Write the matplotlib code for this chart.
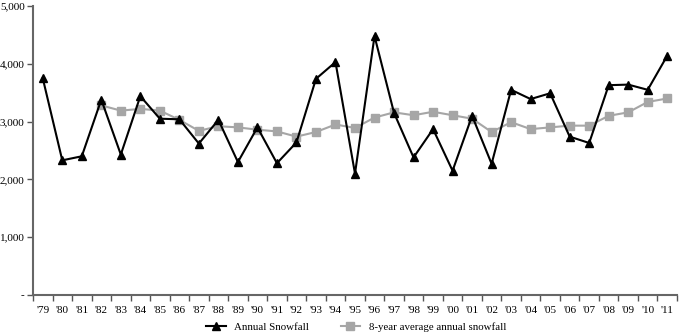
import numpy as np
import matplotlib.pyplot as plt
from matplotlib.ticker import FuncFormatter

plt.rcParams['font.family'] = ['Liberation Serif', 'DejaVu Serif']

# Data
years = ["'79", "'80", "'81", "'82", "'83", "'84", "'85", "'86", "'87", "'88",
         "'89", "'90", "'91", "'92", "'93", "'94", "'95", "'96", "'97", "'98",
         "'99", "'00", "'01", "'02", "'03", "'04", "'05", "'06", "'07", "'08",
         "'09", "'10", "'11"]
annual = [3750, 2330, 2400, 3380, 2430, 3440, 3050, 3040, 2620, 3030,
          2300, 2900, 2280, 2640, 3740, 4030, 2100, 4480, 3150, 2380,
          2870, 2150, 3100, 2270, 3550, 3390, 3490, 2740, 2630, 3630,
          3640, 3550, 4140]
avg_start = 3
avg8 = [3280, 3190, 3220, 3190, 3030, 2840, 2920, 2900, 2860, 2830,
        2740, 2820, 2950, 2890, 3070, 3160, 3110, 3170, 3110, 3050,
        2820, 2990, 2870, 2900, 2930, 2930, 3100, 3160, 3340, 3400]

x = np.arange(len(years))

fig = plt.figure(figsize=(6.79, 3.34), dpi=100)
ax = fig.add_axes([33/679, 1 - 295/334, 644/679, 289/334])

ax.plot(x[avg_start:], avg8, color='#a6a6a6', lw=1.5, marker='s', ms=6,
        label='8-year average annual snowfall', zorder=2)
ax.plot(x, annual, color='black', lw=1.5, marker='^', ms=6,
        label='Annual Snowfall', zorder=3)

ax.set_xlim(-0.5, len(years) - 0.5)
ax.set_ylim(0, 5000)
ax.set_yticks(np.arange(0, 5001, 1000))
ax.yaxis.set_major_formatter(FuncFormatter(lambda v, p: '-' if v == 0 else '{:,.0f}'.format(v)))

ax.set_xticks(x)
ax.set_xticklabels(years)
ax.set_xticks(np.arange(-0.5, len(years), 1), minor=True)
ax.tick_params(axis='x', which='major', length=0, labelsize=8, pad=8)
ax.tick_params(axis='x', which='minor', length=4, width=1, color='#555555')
ax.tick_params(axis='y', length=4, width=1, color='#555555', labelsize=8, pad=2)

for s in ['top', 'right']:
    ax.spines[s].set_visible(False)
for s in ['left', 'bottom']:
    ax.spines[s].set_color('#666666')
    ax.spines[s].set_linewidth(1.5)

handles, labels = ax.get_legend_handles_labels()
ax.legend(handles[::-1], labels[::-1], loc='center', bbox_to_anchor=(0.502, -0.112),
          ncol=2, frameon=False, fontsize=7.8, handlelength=1.8, columnspacing=2.9,
          handletextpad=0.8, markerscale=1.0)

fig.savefig('out.png', dpi=100)
